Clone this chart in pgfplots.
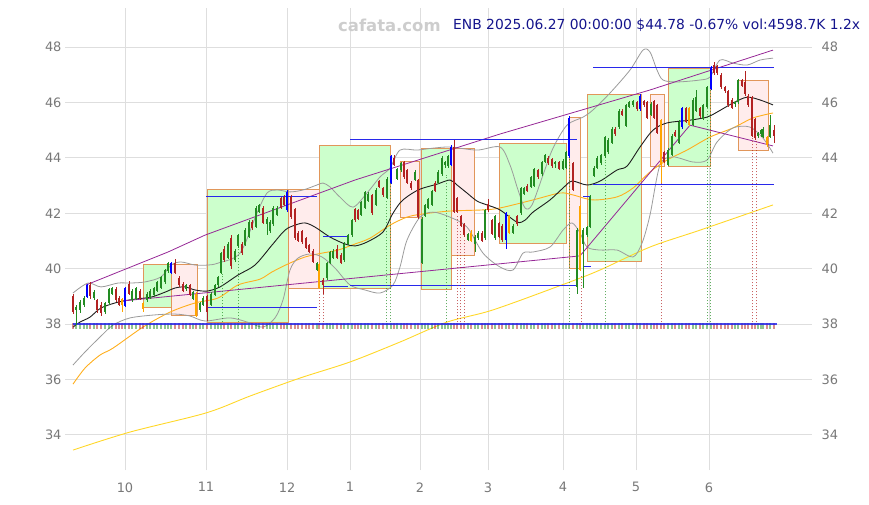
\documentclass[border=0pt]{standalone}
\usepackage{fontspec}
\setmainfont{DejaVu Sans}
\usepackage{pgfplots}
\pgfplotsset{compat=1.18}
\usepackage{pgfplotstable}

\definecolor{up}{RGB}{34,139,34}
\definecolor{dn}{RGB}{178,34,34}
\definecolor{hiup}{RGB}{0,0,255}
\definecolor{hidn}{RGB}{255,165,0}
\definecolor{boxg}{RGB}{204,255,204}
\definecolor{boxr}{RGB}{255,236,236}
\definecolor{boxedge}{RGB}{225,150,90}
\definecolor{lvl}{RGB}{40,40,235}
\definecolor{trend}{RGB}{150,40,150}
\definecolor{ma20}{RGB}{30,30,30}
\definecolor{band}{RGB}{155,155,155}
\definecolor{ma50}{RGB}{255,175,30}
\definecolor{ma200}{RGB}{255,215,40}
\definecolor{gridc}{RGB}{222,222,222}
\definecolor{tickc}{RGB}{120,120,120}
\definecolor{titlec}{RGB}{20,20,140}
\definecolor{wmc}{RGB}{205,205,205}

% daily candles, x = position on the time axis
% t: 0 normal, 1 strong up (blue), 2 strong down (orange)
\pgfplotstableread{
x o h l c t
73 39.00 39.10 38.35 38.45 0
76 38.50 38.70 37.95 38.62 0
80 38.50 38.85 38.40 38.78 0
84 38.70 39.02 38.60 38.95 0
87 38.98 39.45 38.95 39.40 1
90 39.40 39.50 38.90 39.00 0
94 38.95 39.22 38.88 39.15 0
97 38.85 38.92 38.40 38.50 0
101 38.70 38.78 38.28 38.40 0
105 38.45 38.80 38.38 38.75 0
109 38.75 39.30 38.70 39.25 0
112 39.10 39.35 39.05 39.30 0
116 39.25 39.32 38.80 38.85 0
119 38.95 39.00 38.65 38.70 0
122 38.90 38.95 38.45 38.70 2
125 38.65 39.35 38.60 39.30 1
129 39.45 39.55 39.05 39.10 0
132 38.85 39.25 38.80 39.20 0
136 38.90 39.35 38.85 39.30 0
140 39.20 39.25 38.85 38.90 0
143 38.75 38.80 38.45 38.55 2
147 38.85 39.15 38.80 39.10 0
150 38.95 39.25 38.90 39.20 0
154 39.05 39.35 39.00 39.30 0
157 39.20 39.55 39.15 39.50 0
161 39.30 39.75 39.25 39.70 0
165 39.50 40.00 39.45 39.95 0
168 39.90 40.25 39.85 40.20 0
171 39.85 40.25 39.80 40.20 1
175 40.20 40.35 39.80 39.85 0
179 39.65 39.72 39.35 39.40 0
183 39.45 39.52 39.15 39.20 0
186 39.25 39.45 39.20 39.40 0
190 39.40 39.45 39.00 39.05 0
193 38.90 39.20 38.85 39.15 0
196 39.10 39.15 38.25 38.30 2
200 38.50 38.80 38.45 38.75 0
203 38.70 39.00 38.65 38.95 0
207 39.00 39.05 38.10 38.45 0
211 38.70 39.15 38.65 39.10 0
215 39.05 39.45 39.00 39.40 0
218 39.40 39.75 39.35 39.70 0
221 39.85 40.60 39.80 40.55 0
224 40.70 40.80 40.25 40.30 0
228 40.40 40.95 40.35 40.90 0
231 41.10 41.20 40.00 40.10 0
235 40.30 40.70 40.25 40.65 0
238 40.80 41.25 40.75 41.20 0
242 40.90 40.95 40.50 40.55 0
245 40.85 41.45 40.80 41.40 0
249 41.15 41.75 41.10 41.70 0
252 41.70 41.75 41.40 41.45 0
256 41.50 42.25 41.45 42.20 0
259 42.05 42.35 42.00 42.30 0
263 42.20 42.25 41.60 41.65 0
267 41.60 41.85 41.20 41.80 0
270 41.35 41.75 41.30 41.70 0
273 41.60 42.25 41.55 42.20 0
277 41.95 42.25 41.90 42.20 0
281 42.55 42.60 42.15 42.20 0
284 42.60 42.65 42.25 42.30 0
287 42.10 42.85 42.05 42.75 1
291 42.60 42.65 41.80 41.85 0
295 42.15 42.20 41.05 41.10 0
298 41.30 41.35 40.95 41.00 0
302 41.35 41.40 40.90 40.95 0
306 41.10 41.15 40.70 40.75 0
309 40.85 40.90 40.55 40.60 0
313 40.65 40.70 40.20 40.25 0
317 39.95 40.25 39.90 40.20 0
319 40.15 40.20 39.25 39.30 2
323 39.60 39.65 39.10 39.40 0
327 39.65 40.25 39.60 40.20 0
330 40.20 40.65 40.15 40.60 0
333 40.40 40.70 40.35 40.65 0
337 40.70 40.85 40.35 40.40 0
341 40.50 40.55 40.15 40.20 0
344 40.30 40.95 40.25 40.90 0
348 40.90 41.25 40.85 41.20 0
352 41.20 41.80 41.15 41.75 0
355 42.15 42.20 41.70 41.75 0
358 42.10 42.15 41.75 41.80 0
361 41.95 42.45 41.90 42.40 0
365 42.20 42.80 42.15 42.75 0
368 42.45 42.75 42.40 42.70 0
372 42.65 42.70 41.95 42.00 0
376 42.30 42.90 42.25 42.85 0
379 43.15 43.20 42.90 42.95 0
383 42.90 42.95 42.60 42.65 0
387 42.55 43.30 42.50 43.25 0
391 43.10 44.10 43.05 44.05 1
394 44.00 44.10 43.70 43.75 0
397 43.25 43.65 43.20 43.60 0
401 43.55 43.85 43.50 43.80 0
404 43.85 43.90 43.25 43.30 0
407 43.55 43.60 43.05 43.10 0
411 43.10 43.15 42.85 42.90 0
415 43.20 43.55 43.15 43.50 0
418 43.20 43.25 41.80 41.85 0
422 40.20 41.85 40.15 41.80 0
425 41.90 42.35 41.85 42.30 0
428 42.20 42.55 42.15 42.50 0
432 42.30 42.85 42.25 42.80 0
435 43.10 43.15 42.75 42.80 0
438 43.10 43.55 43.05 43.50 0
442 43.40 44.05 43.35 44.00 0
445 43.75 43.90 43.65 43.85 0
448 43.70 44.10 43.65 44.05 0
451 43.75 44.45 43.70 44.40 1
454 44.40 44.65 42.00 42.05 0
457 42.55 42.60 42.00 42.05 0
461 41.90 41.95 41.50 41.55 0
464 41.60 41.65 41.15 41.20 0
468 41.05 41.30 41.00 41.25 0
471 41.30 41.40 40.95 41.00 2
475 40.90 41.20 40.60 41.15 0
478 41.10 41.35 41.05 41.30 0
482 41.30 41.35 40.95 41.00 0
485 41.10 42.15 41.05 42.10 0
488 42.35 42.50 42.05 42.10 0
492 41.75 41.80 41.20 41.25 0
495 41.10 41.95 41.05 41.90 0
499 41.65 41.70 41.10 41.15 0
502 41.55 41.60 40.95 41.05 0
506 41.05 42.05 40.70 42.00 1
509 41.90 41.95 41.25 41.30 2
513 41.30 41.60 41.25 41.55 0
517 41.90 41.95 41.55 41.60 0
521 42.00 42.95 41.95 42.90 0
524 42.70 42.95 42.65 42.90 0
527 43.00 43.05 42.75 42.80 0
531 42.95 43.35 42.90 43.30 0
534 43.00 43.65 42.95 43.60 0
538 43.55 43.60 43.25 43.30 0
542 43.40 43.90 43.35 43.85 0
545 43.85 44.15 43.80 44.10 0
548 44.00 44.05 43.75 43.80 0
552 43.95 44.00 43.65 43.70 0
555 43.80 43.90 43.65 43.85 0
559 43.85 43.90 43.55 43.60 0
563 43.60 43.95 43.55 43.90 0
566 43.65 44.25 43.60 44.20 0
569 44.05 45.50 44.00 45.45 1
573 43.80 43.85 42.80 42.85 0
577 39.35 41.45 39.10 41.40 0
580 42.25 42.30 39.90 39.95 2
583 40.90 41.45 39.30 41.40 0
587 41.20 41.55 41.15 41.50 0
590 41.50 42.65 41.45 42.60 0
594 43.35 43.70 43.30 43.65 0
597 43.65 44.05 43.60 44.00 0
601 43.80 44.15 43.75 44.10 0
605 44.05 44.80 44.00 44.75 0
608 44.20 44.70 44.15 44.65 0
612 44.55 45.10 44.50 45.05 0
615 45.05 45.10 44.80 44.85 0
619 45.10 45.75 45.05 45.70 0
622 45.70 45.75 45.50 45.55 0
626 45.15 45.95 45.10 45.90 0
629 45.85 46.05 45.80 46.00 0
633 45.90 46.10 45.85 46.05 0
637 46.00 46.05 45.70 45.75 0
640 45.75 46.30 45.70 46.25 1
644 46.05 46.10 45.85 45.90 0
647 46.00 46.05 45.40 45.45 0
651 45.55 46.00 45.50 45.95 0
654 46.05 46.10 45.40 45.45 0
657 45.90 45.95 44.85 44.90 0
661 45.35 45.40 43.10 43.75 2
664 44.20 44.25 43.80 43.85 0
668 43.75 44.35 43.70 44.30 0
672 44.10 44.85 44.05 44.80 0
675 44.95 45.00 44.75 44.80 0
679 44.55 45.35 44.50 45.30 0
682 45.10 45.85 45.05 45.80 1
686 45.80 45.85 45.25 45.30 0
689 45.80 45.85 45.15 45.20 2
693 45.20 46.15 45.15 46.10 0
696 45.70 46.45 45.65 46.20 0
700 45.80 45.85 45.45 45.50 0
703 45.40 45.95 45.35 45.90 0
707 45.85 46.60 45.80 46.55 0
711 46.50 47.30 46.45 47.25 1
714 47.35 47.45 47.00 47.05 0
717 47.30 47.35 47.00 47.05 0
721 47.00 47.05 46.50 46.55 0
725 46.55 46.60 46.35 46.40 0
728 46.40 46.45 45.85 45.90 0
732 46.10 46.15 45.75 45.80 0
735 45.95 46.05 45.85 46.00 0
738 46.00 46.85 45.95 46.80 0
742 46.80 46.85 46.55 46.60 0
745 46.75 47.15 46.25 46.30 0
748 46.25 46.30 45.85 45.90 0
752 46.20 46.25 44.75 44.80 0
755 45.40 45.45 44.65 44.70 0
758 44.80 44.95 44.70 44.90 0
761 44.85 45.05 44.75 45.00 0
763 44.75 45.10 44.70 45.05 0
767 44.75 44.80 44.40 44.45 2
770 44.75 45.55 44.70 45.20 0
774 45.00 45.20 44.55 44.78 0
}\candles

\pgfplotstableread{
x top
222 39.80
238 40.80
386 42.48
390 43.20
446 43.38
569 44.10
605 43.92
707 45.90
710 46.52
}\sigup

\pgfplotstableread{
x top
319 39.23
323 39.23
457 41.93
460 41.40
464 41.03
581 39.77
661 43.20
752 44.82
756 44.64
}\sigdn

\pgfplotsset{
  ebar/.style 2 args={draw=none, mark=none,
    /pgfplots/error bars/y dir=#2, /pgfplots/error bars/y explicit,
    /pgfplots/error bars/error mark=none},
  wick/.style={ebar={}{both},
    /pgfplots/error bars/error bar style={draw=#1, line width=0.9bp}},
  body/.style={ebar={}{both},
    /pgfplots/error bars/error bar style={draw=#1, line width=2.8bp}},
  vol/.style={ebar={}{both},
    /pgfplots/error bars/error bar style={draw=#1, line width=2.8bp, opacity=0.5}},
  sig/.style={ebar={}{plus},
    /pgfplots/error bars/error bar style={draw=#1, line width=0.8bp, dash pattern=on 1.5bp off 1.5bp, opacity=0.7}},
  isup/.style={x filter/.expression={(\thisrow{t}==0 && \thisrow{c}>=\thisrow{o}) ? x : nan}},
  isdn/.style={x filter/.expression={(\thisrow{t}==0 && \thisrow{c}<\thisrow{o}) ? x : nan}},
  ist/.style={x filter/.expression={\thisrow{t}==#1 ? x : nan}},
  gbox/.style={fill=boxg, draw=boxedge, line width=1bp},
  rbox/.style={fill=boxr, draw=boxedge, line width=1bp},
}

\begin{document}
\begin{tikzpicture}
\path[use as bounding box] (0,0) rectangle (869bp,505bp);

\begin{axis}[
  at={(65bp,35bp)}, anchor=south west,
  width=747bp, height=462bp, scale only axis,
  xmin=65, xmax=812, ymin=32.73, ymax=49.41,
  axis line style={draw=none},
  tick style={draw=none},
  xtick={125,206,287,350,420,488,563,636,709},
  xticklabels={10,11,12,1,2,3,4,5,6},
  ytick={34,36,...,48},
  grid=major,
  major grid style={draw=gridc, line width=0.8bp},
  tick label style={font=\fontsize{13}{13}\selectfont, text=tickc},
  xticklabel style={yshift=-9bp},
  /pgf/number format/assume math mode=true,
]

% ---- pattern boxes ----
\addplot[gbox] coordinates {(143,38.58) (171,38.58) (171,40.14) (143,40.14)} -- cycle;
\addplot[rbox] coordinates {(171,38.32) (197,38.32) (197,40.14) (171,40.14)} -- cycle;
\addplot[gbox] coordinates {(207,38.07) (288,38.07) (288,42.84) (207,42.84)} -- cycle;
\addplot[rbox] coordinates {(288,39.30) (319,39.30) (319,42.84) (288,42.84)} -- cycle;
\addplot[gbox] coordinates {(319,39.30) (390,39.30) (390,44.43) (319,44.43)} -- cycle;
\addplot[rbox] coordinates {(400,41.83) (419,41.83) (419,43.85) (400,43.85)} -- cycle;
\addplot[gbox] coordinates {(421,39.26) (451,39.26) (451,44.35) (421,44.35)} -- cycle;
\addplot[rbox] coordinates {(451,40.49) (474,40.49) (474,44.35) (451,44.35)} -- cycle;
\addplot[gbox] coordinates {(499,40.92) (566,40.92) (566,44.50) (499,44.50)} -- cycle;
\addplot[rbox] coordinates {(569,39.99) (580,39.99) (580,45.44) (569,45.44)} -- cycle;
\addplot[gbox] coordinates {(587,40.24) (641,40.24) (641,46.27) (587,46.27)} -- cycle;
\addplot[rbox] coordinates {(650,43.67) (664,43.67) (664,46.27) (650,46.27)} -- cycle;
\addplot[gbox] coordinates {(668,43.67) (710,43.67) (710,47.24) (668,47.24)} -- cycle;
\addplot[rbox] coordinates {(738,44.25) (768,44.25) (768,46.81) (738,46.81)} -- cycle;

% ---- moving averages and bands ----
\addplot[ma200, line width=0.9bp, smooth] coordinates {
(73,33.45) (130,34.10) (206,34.79) (250,35.40) (300,36.05) (350,36.63) (400,37.35)
(447,38.07) (493,38.51) (567,39.48) (600,39.95) (650,40.78) (700,41.39) (773,42.30)};
\addplot[ma50, line width=0.9bp, smooth] coordinates {
(73,35.83) (85,36.41) (100,36.88) (113,37.13) (143,37.89) (170,38.43) (195,38.76)
(218,38.94) (238,39.41) (260,39.62) (272,39.88) (288,40.17) (305,40.42) (322,40.56)
(338,40.67) (355,40.89) (370,41.10) (390,41.57) (407,41.86) (422,41.97) (450,42.08)
(483,42.12) (500,42.19) (533,42.48) (560,42.73) (573,42.66) (593,42.48) (617,42.59)
(633,42.91) (650,43.49) (667,43.92) (687,44.28) (710,44.75) (733,45.08) (753,45.44) (773,45.62)};
\addplot[band, line width=0.8bp, smooth] coordinates {
(73,39.12) (88,39.48) (101,39.34) (118,39.48) (130,39.48) (145,39.52) (161,39.70)
(171,40.13) (181,40.24) (195,40.13) (208,40.13) (218,40.20) (240,40.56) (257,42.01)
(267,42.73) (277,42.84) (290,42.77) (303,42.84) (317,43.02) (323,43.09) (330,42.95)
(340,42.58) (353,42.22) (367,42.73) (380,43.31) (390,43.63) (400,44.28) (417,44.28)
(433,44.35) (450,44.39) (477,44.28) (500,44.39) (510,43.74) (518,42.84) (525,42.19)
(532,42.30) (543,43.38) (553,44.35) (567,45.18) (583,45.47) (593,45.73) (610,46.34)
(630,47.17) (643,47.89) (650,47.82) (657,47.17) (663,46.81) (677,46.74) (700,46.81)
(710,46.92) (720,47.53) (733,47.42) (747,47.35) (760,47.53) (773,47.60)};
\addplot[band, line width=0.8bp, smooth] coordinates {
(73,36.52) (85,36.99) (100,37.53) (113,37.96) (130,38.22) (155,38.33) (175,38.36)
(190,38.29) (205,38.11) (230,38.22) (250,38.04) (263,37.89) (275,38.22) (283,38.87)
(290,39.95) (298,40.38) (310,40.53) (322,40.42) (335,40.02) (350,39.41) (365,39.23)
(380,39.12) (393,39.41) (400,40.06) (407,41.03) (420,41.86) (433,42.04) (450,41.86)
(467,41.50) (483,40.56) (500,40.06) (513,39.95) (523,40.56) (533,40.60) (550,40.78)
(563,41.39) (572,41.65) (580,41.29) (587,40.78) (600,40.67) (617,40.67) (633,40.42)
(642,40.92) (650,41.94) (660,43.74) (673,44.03) (693,43.85) (707,43.92) (717,44.57)
(733,45.08) (750,45.11) (763,44.71) (773,44.17)};
\addplot[ma20, line width=0.9bp, smooth] coordinates {
(73,37.89) (80,38.07) (90,38.25) (101,38.58) (118,38.79) (135,38.90) (151,38.97)
(165,39.15) (175,39.30) (185,39.34) (195,39.23) (207,39.19) (220,39.34) (238,39.77)
(255,40.13) (272,40.85) (285,41.39) (295,41.57) (305,41.65) (315,41.50) (330,41.14)
(345,40.89) (355,40.82) (367,40.96) (383,41.32) (392,41.94) (400,42.37) (408,42.62)
(420,42.87) (437,43.05) (450,43.20) (457,43.02) (467,42.73) (477,42.44) (487,42.30)
(500,42.12) (517,41.68) (525,41.75) (533,42.04) (550,42.48) (563,42.91) (572,43.16)
(587,43.02) (600,43.16) (617,43.56) (627,43.70) (640,44.39) (653,45.00) (667,45.26)
(690,45.36) (707,45.47) (717,45.65) (733,45.98) (747,46.19) (760,46.09) (773,45.91)};

% ---- trend lines ----
\addplot[trend, line width=0.8bp] coordinates {
(86,39.41) (168,40.60) (205,41.21) (355,43.20) (500,44.86) (650,46.45) (773,47.89)};
\addplot[trend, line width=0.8bp] coordinates {(122,38.83) (580,40.46) (690,45.18) (773,44.43)};

% ---- horizontal levels ----
\addplot[lvl, line width=0.9bp] coordinates {(206,42.62) (317,42.62)};
\addplot[lvl, line width=0.9bp] coordinates {(206,38.61) (317,38.61)};
\addplot[lvl, line width=0.9bp] coordinates {(323,41.18) (348,41.18)};
\addplot[lvl, line width=0.9bp] coordinates {(323,39.34) (348,39.34)};
\addplot[lvl, line width=0.9bp] coordinates {(350,39.41) (577,39.41)};
\addplot[lvl, line width=0.9bp] coordinates {(350,44.68) (577,44.68)};
\addplot[lvl, line width=0.9bp] coordinates {(583,42.62) (591,42.62)};
\addplot[lvl, line width=0.9bp] coordinates {(583,40.09) (591,40.09)};
\addplot[lvl, line width=0.9bp] coordinates {(593,47.28) (774,47.28)};
\addplot[lvl, line width=0.9bp] coordinates {(593,43.05) (774,43.05)};

% ---- signal markers ----
\addplot[sig=up] table[x=x, y expr=37.95, y error expr=\thisrow{top}-37.95] {\sigup};
\addplot[sig=dn] table[x=x, y expr=37.95, y error expr=\thisrow{top}-37.95] {\sigdn};

% ---- volume strip ----
\addplot[vol=up, x filter/.expression={\thisrow{c}>=\thisrow{o} ? x : nan}]
  table[x=x, y expr=37.92, y error expr=0.1] {\candles};
\addplot[vol=dn, x filter/.expression={\thisrow{c}<\thisrow{o} ? x : nan}]
  table[x=x, y expr=37.92, y error expr=0.1] {\candles};
\addplot[lvl, line width=1.6bp, opacity=0.85] coordinates {(73,38.0) (777,38.0)};

% ---- candles ----
\addplot[wick=up, isup] table[x=x, y=c, y error plus expr=\thisrow{h}-\thisrow{c}, y error minus expr=\thisrow{c}-\thisrow{l}] {\candles};
\addplot[body=up, isup] table[x=x, y expr=(\thisrow{o}+\thisrow{c})/2, y error expr={max(abs(\thisrow{c}-\thisrow{o})/2,0.03)}] {\candles};
\addplot[wick=dn, isdn] table[x=x, y=c, y error plus expr=\thisrow{h}-\thisrow{c}, y error minus expr=\thisrow{c}-\thisrow{l}] {\candles};
\addplot[body=dn, isdn] table[x=x, y expr=(\thisrow{o}+\thisrow{c})/2, y error expr={max(abs(\thisrow{c}-\thisrow{o})/2,0.03)}] {\candles};
\addplot[wick=hiup, ist=1] table[x=x, y=c, y error plus expr=\thisrow{h}-\thisrow{c}, y error minus expr=\thisrow{c}-\thisrow{l}] {\candles};
\addplot[body=hiup, ist=1] table[x=x, y expr=(\thisrow{o}+\thisrow{c})/2, y error expr={max(abs(\thisrow{c}-\thisrow{o})/2,0.03)}] {\candles};
\addplot[wick=hidn, ist=2] table[x=x, y=c, y error plus expr=\thisrow{h}-\thisrow{c}, y error minus expr=\thisrow{c}-\thisrow{l}] {\candles};
\addplot[body=hidn, ist=2] table[x=x, y expr=(\thisrow{o}+\thisrow{c})/2, y error expr={max(abs(\thisrow{c}-\thisrow{o})/2,0.03)}] {\candles};
\end{axis}

% right-hand price labels
\begin{axis}[
  at={(65bp,35bp)}, anchor=south west,
  width=747bp, height=462bp, scale only axis,
  xmin=65, xmax=812, ymin=32.73, ymax=49.41,
  axis line style={draw=none}, tick style={draw=none},
  xtick=\empty, ytick={34,36,...,48}, yticklabel pos=right,
  tick label style={font=\fontsize{13}{13}\selectfont, text=tickc},
  yticklabel style={xshift=6bp},
  /pgf/number format/assume math mode=true,
]
\end{axis}

\node[anchor=west, inner sep=0, text=wmc, font=\bfseries\fontsize{16.5}{16.5}\selectfont] at (338bp,480bp) {cafata.com};
\node[anchor=west, inner sep=0, text=titlec, font=\fontsize{13.9}{13.9}\selectfont] at (453bp,480bp) {ENB 2025.06.27 00:00:00 \$44.78 -0.67\% vol:4598.7K 1.2x};
\end{tikzpicture}
\end{document}
